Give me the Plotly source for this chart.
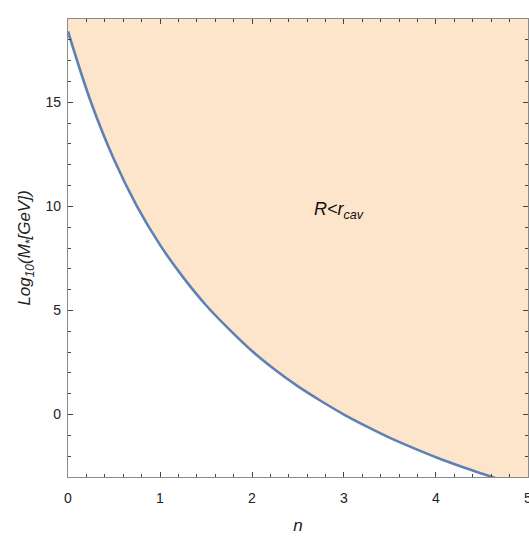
import plotly.graph_objects as go

# Values
n_vals = [0, 0.25, 0.5, 0.75, 1.0, 1.25, 1.5, 1.75, 2.0, 2.25, 2.5, 2.75,
          3.0, 3.25, 3.5, 3.75, 4.0, 4.25, 4.5, 4.75, 5.0]
log_m = [18.4, 15.0, 12.25, 10.0, 8.15, 6.6, 5.25, 4.1, 3.05, 2.15, 1.35, 0.65,
         0.0, -0.58, -1.12, -1.6, -2.05, -2.46, -2.84, -3.2, -3.52]
y_top = 19
x_range = [0, 5.0001]
y_range = [-3, 19]
x_ticks = [0, 1, 2, 3, 4, 5]
y_ticks = [0, 5, 10, 15]
region_label = "<i>R&lt;r<sub>cav</sub></i>"
label_pos = (2.95, 9.8)

fill_col = "#FDE5CB"
line_col = "#5E81B5"
frame_col = "#8c8c8c"
font_fam = "Liberation Sans, Arial, sans-serif"

fig = go.Figure()
fig.add_trace(go.Scatter(x=n_vals, y=[y_top] * len(n_vals), mode="lines",
                         line=dict(width=0, color=fill_col), hoverinfo="skip",
                         showlegend=False))
fig.add_trace(go.Scatter(x=n_vals, y=log_m, mode="lines", fill="tonexty",
                         fillcolor=fill_col,
                         line=dict(color=line_col, width=2.6, shape="spline", smoothing=1.0),
                         showlegend=False))

fig.add_annotation(x=label_pos[0], y=label_pos[1], text=region_label,
                   showarrow=False, font=dict(family=font_fam, size=18, color="#111"))

axis_common = dict(showgrid=False, zeroline=False, showline=True, linecolor=frame_col,
                   linewidth=1.3, mirror="ticks", ticks="inside", ticklen=5,
                   tickwidth=1, tickcolor="#444",
                   tickfont=dict(family=font_fam, size=14, color="#222"))

fig.update_xaxes(range=x_range, tickmode="array", tickvals=x_ticks,
                 ticktext=[str(v) for v in x_ticks],
                 minor=dict(ticks="inside", dtick=0.2, tick0=0, ticklen=3, tickcolor="#444"),
                 title=dict(text="<i>n</i>", font=dict(family=font_fam, size=17, color="#222"),
                            standoff=14),
                 ticklabelstandoff=8, ticklabeloverflow="allow", automargin=False,
                 **axis_common)
fig.update_yaxes(range=y_range, tickmode="array", tickvals=y_ticks,
                 ticktext=[str(v) for v in y_ticks],
                 minor=dict(ticks="inside", dtick=1, tick0=0, ticklen=3, tickcolor="#444"),
                 title=dict(text="<i>Log<sub>10</sub>(M<sub>*</sub>[GeV])</i>",
                            font=dict(family=font_fam, size=17, color="#222"),
                            standoff=10),
                 ticklabelstandoff=3, automargin=False, **axis_common)

fig.update_layout(width=529, height=536, margin=dict(l=68, r=1, t=19, b=59),
                  plot_bgcolor="white", paper_bgcolor="white")

fig.write_html("out.html", config={"displayModeBar": False},
               post_script="document.body.style.margin='0px';document.body.style.overflow='hidden';")
